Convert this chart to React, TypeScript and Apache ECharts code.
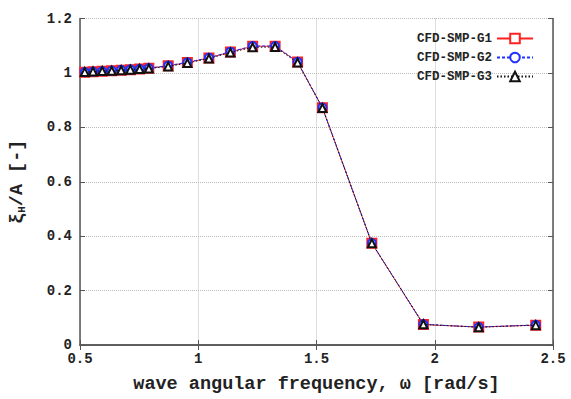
import React, { useEffect, useRef } from "react";
import * as echarts from "echarts";

const omega = [0.52, 0.555, 0.594, 0.634, 0.674, 0.713, 0.752, 0.791, 0.873, 0.954, 1.045, 1.136, 1.23, 1.325, 1.42, 1.525, 1.734, 1.952, 2.186, 2.427];
const g1 = [1.002, 1.004, 1.006, 1.008, 1.01, 1.012, 1.014, 1.017, 1.026, 1.038, 1.055, 1.077, 1.098, 1.098, 1.04, 0.872, 0.374, 0.075, 0.066, 0.073];
const g2 = [1.003, 1.005, 1.007, 1.009, 1.011, 1.013, 1.015, 1.018, 1.027, 1.039, 1.056, 1.078, 1.099, 1.099, 1.041, 0.873, 0.375, 0.076, 0.066, 0.074];
const g3 = [1.003, 1.005, 1.007, 1.008, 1.01, 1.012, 1.014, 1.016, 1.024, 1.036, 1.053, 1.075, 1.094, 1.095, 1.038, 0.871, 0.374, 0.076, 0.065, 0.073];
const seriesNames = ["CFD-SMP-G1", "CFD-SMP-G2", "CFD-SMP-G3"];

const MONO = "'Liberation Mono', 'DejaVu Sans Mono', monospace";

export default function App() {
  const ref = useRef<HTMLDivElement>(null);
  useEffect(() => {
    if (!ref.current) return;
    const chart = echarts.init(ref.current, null, { renderer: "svg" });
    const pairs = (ys: number[]) => omega.map((x, i) => [x, ys[i]]);
    const axisLine = { show: true, lineStyle: { color: "#555", width: 1.5 } };
    const grid = { left: 77, right: 18, top: 18.5, bottom: 52 };
    chart.setOption({
      animation: false,
      backgroundColor: "#fff",
      grid,
      legend: {
        orient: "vertical",
        right: 32,
        top: 27,
        align: "right",
        itemWidth: 36,
        itemHeight: 12,
        itemGap: 6,
        textStyle: { fontFamily: MONO, fontWeight: "bold", fontSize: 12.5, color: "#222" },
        data: seriesNames,
      },
      xAxis: [
        {
          type: "value",
          min: 0.5,
          max: 2.5,
          interval: 0.5,
          axisLine,
          axisTick: { show: true, inside: true, length: 5, lineStyle: { color: "#555" } },
          axisLabel: {
            fontFamily: MONO,
            fontWeight: "bold",
            fontSize: 14,
            color: "#222",
            margin: 7,
            formatter: (v: number) => String(+v.toFixed(1)),
          },
          splitLine: { show: true, lineStyle: { color: "#bbb", type: "dotted", width: 1 } },
          name: "wave angular frequency, ω [rad/s]",
          nameLocation: "middle",
          nameGap: 30,
          nameTextStyle: { fontFamily: MONO, fontWeight: "bold", fontSize: 18.5, color: "#222" },
        },
        {
          type: "value",
          position: "top",
          min: 0.5,
          max: 2.5,
          interval: 0.5,
          axisLine,
          axisTick: { show: true, inside: true, length: 5, lineStyle: { color: "#555" } },
          axisLabel: { show: false },
          splitLine: { show: false },
        },
      ],
      yAxis: [
        {
          type: "value",
          min: 0,
          max: 1.2,
          interval: 0.2,
          axisLine,
          axisTick: { show: true, inside: true, length: 5, lineStyle: { color: "#555" } },
          axisLabel: {
            fontFamily: MONO,
            fontWeight: "bold",
            fontSize: 14,
            color: "#222",
            margin: 8,
            formatter: (v: number) => String(+v.toFixed(1)),
          },
          splitLine: { show: true, lineStyle: { color: "#bbb", type: "dotted", width: 1 } },
          name: "{a|ξ}{s|H}{a|/A [-]}",
          nameLocation: "middle",
          nameRotate: 90,
          nameGap: 53,
          nameTextStyle: {
            rich: {
              a: { fontFamily: MONO, fontWeight: "bold", fontSize: 18.5, color: "#222" },
              s: { fontFamily: MONO, fontWeight: "bold", fontSize: 11, color: "#222", verticalAlign: "bottom", padding: [8, 0, 0, 0] },
            },
          },
        },
        {
          type: "value",
          position: "right",
          min: 0,
          max: 1.2,
          interval: 0.2,
          axisLine,
          axisTick: { show: true, inside: true, length: 5, lineStyle: { color: "#555" } },
          axisLabel: { show: false },
          splitLine: { show: false },
        },
      ],
      series: [
        {
          name: seriesNames[0],
          type: "line",
          data: pairs(g1),
          symbol: "emptyRect",
          symbolSize: 9,
          color: "#ff2020",
          lineStyle: { color: "#ff2020", width: 1, type: "solid" },
          itemStyle: { color: "#ff2020", borderWidth: 1 },
          z: 2,
        },
        {
          name: seriesNames[1],
          type: "line",
          data: pairs(g2),
          symbol: "emptyCircle",
          symbolSize: 8,
          color: "#2030ff",
          lineStyle: { color: "#2030ff", width: 1, type: [3, 2] },
          itemStyle: { color: "#2030ff", borderWidth: 1 },
          z: 3,
        },
        {
          name: seriesNames[2],
          type: "line",
          data: pairs(g3),
          symbol: "emptyTriangle",
          symbolSize: 8,
          color: "#111",
          lineStyle: { color: "#111", width: 1, type: [1.5, 2] },
          itemStyle: { color: "#111", borderWidth: 1 },
          z: 4,
        },
      ],
    });
    return () => chart.dispose();
  }, []);
  return <div ref={ref} style={{ width: 571, height: 399, position: "absolute", left: 0, top: 0 }} />;
}
